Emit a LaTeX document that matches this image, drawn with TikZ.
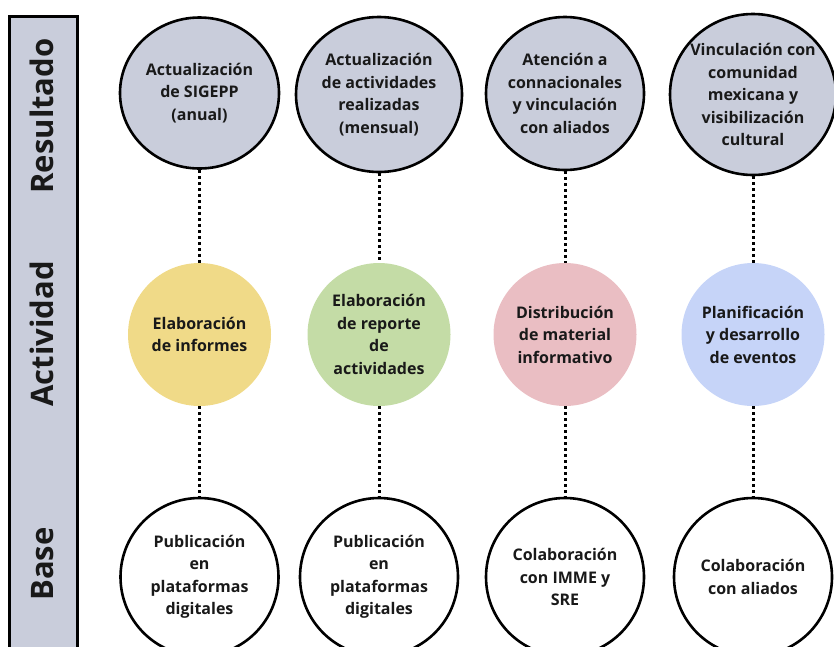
\documentclass[tikz,border=0pt]{standalone}
\usepackage{fontspec}
\setmainfont{Open Sans}
\usepackage{tikz}
\usetikzlibrary{shapes.geometric}
\definecolor{gris}{HTML}{C9CDDB}
\definecolor{amarillo}{HTML}{F0DA88}
\definecolor{verde}{HTML}{C4DCA6}
\definecolor{rosa}{HTML}{EABEC3}
\definecolor{azul}{HTML}{C6D4F8}

\begin{document}
\begin{tikzpicture}[x=1pt,y=-1pt,
  txt/.style={font=\bfseries\fontsize{16}{22.5}\selectfont, align=center, text=black!90},
  res/.style={ellipse, draw, line width=2.6pt, fill=gris, inner sep=0pt},
  act/.style={circle, inner sep=0pt, minimum size=143pt, txt},
  bas/.style={circle, draw, line width=2.6pt, fill=white, inner sep=0pt, minimum size=158pt, txt},
  nivel/.style={rotate=90, anchor=base, font=\bfseries\fontsize{31}{36}\selectfont, text=black!90},
  punteado/.style={line width=3pt, dash pattern=on 3pt off 3pt}]
\useasboundingbox (0,0) rectangle (834,646);
% barra lateral
\draw[line width=3pt, fill=gris] (9.5,16) rectangle (77.5,700);
\node[nivel] (resultado) at (53.5,116) {Resultado};
\node[nivel] (actividad) at (53.5,334) {Actividad};
\node[nivel] (base) at (53.5,564) {Base};
% resultados
\node[res, minimum width=159pt, minimum height=151pt] (r1) at (199.5,93) {};
\node[res, minimum width=166pt, minimum height=155pt] (r2) at (379,94.5) {};
\node[res, minimum width=158pt, minimum height=153pt] (r3) at (565,93.5) {};
\node[res, minimum width=166pt, minimum height=161pt] (r4) at (753,94.5) {};
\node[txt] at (r1) {Actualización\\de SIGEPP\\(anual)};
\node[txt] at (r2) {Actualización\\de actividades\\realizadas\\(mensual)};
\node[txt] at (r3) {Atención a\\connacionales\\y vinculación\\con aliados};
\node[txt] at (r4) {Vinculación con\\comunidad\\mexicana y\\visibilización\\cultural};
% actividades
\node[act, fill=amarillo] (a1) at (199.5,334.5) {Elaboración\\de informes};
\node[act, fill=verde] (a2) at (379,334.5) {Elaboración\\de reporte\\de\\actividades};
\node[act, fill=rosa] (a3) at (565,334.5) {Distribución\\de material\\informativo};
\node[act, fill=azul] (a4) at (753,334.5) {Planificación\\y desarrollo\\de eventos};
% base
\node[bas] (b1) at (199.5,577) {Publicación\\en\\plataformas\\digitales};
\node[bas] (b2) at (379,577) {Publicación\\en\\plataformas\\digitales};
\node[bas] (b3) at (565,577) {Colaboración\\con IMME y\\SRE};
\node[bas] (b4) at (753,577) {Colaboración\\con aliados};
% uniones
\draw[punteado] (r1) -- (a1) (a1) -- (b1);
\draw[punteado] (r2) -- (a2) (a2) -- (b2);
\draw[punteado] (r3) -- (a3) (a3) -- (b3);
\draw[punteado] (r4) -- (a4) (a4) -- (b4);
\end{tikzpicture}
\end{document}
